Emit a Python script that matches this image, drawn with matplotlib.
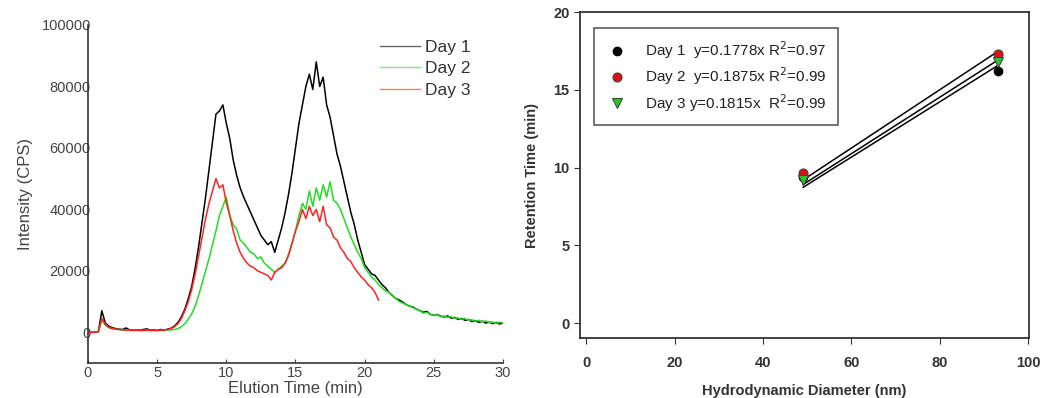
import numpy as np
import matplotlib
matplotlib.use("Agg")
import matplotlib.pyplot as plt

plt.rcParams['font.family'] = ['Liberation Sans', 'DejaVu Sans']

# ---------------- Left panel data: intensity (CPS) every 0.25 min, 0..30 min
day1_cps = [
    0, 0, 0, 200,
    7000, 3000, 2000, 1500,
    1200, 1000, 900, 1400,
    800, 700, 800, 700,
    900, 1100, 700, 800,
    600, 900, 700, 1000,
    1300, 2000, 3200, 5000,
    7500, 11000, 15000, 21000,
    28000, 36000, 44000, 53000,
    62000, 71000, 72000, 74000,
    68000, 63000, 56000, 51000,
    47000, 44000, 41500, 39000,
    36500, 34000, 31500, 30000,
    28500, 29500, 26000, 30000,
    34000, 39000, 45000, 52000,
    60000, 68000, 74000, 80000,
    84000, 79000, 88000, 80000,
    83000, 74000, 70000, 64000,
    58000, 54000, 49000, 44000,
    39000, 35000, 30000, 26000,
    22000, 20500, 19000, 18500,
    17000, 15500, 14500, 13000,
    12000, 11000, 10500, 9800,
    9000, 8500, 8200, 7500,
    7000, 6500, 6800, 5800,
    5500, 5800, 5200, 5000,
    5300, 4600, 4800, 4200,
    4500, 3900, 4100, 3500,
    3800, 3200, 3600, 3000,
    3300, 2800, 3200, 2700,
    3000,
]
day2_cps = [
    0, 0, 0, 200,
    4000, 2500, 1500, 1200,
    1000, 900, 800, 700,
    700, 600, 700, 600,
    600, 700, 600, 600,
    600, 600, 600, 700,
    800, 900, 1200, 1800,
    2800, 4200, 6000, 8500,
    12000, 16000, 20000, 24000,
    28500, 33000, 38000, 41000,
    44000, 38000, 35000, 33500,
    30000, 29000, 27500, 26000,
    25500, 24000, 24500, 22500,
    21500, 20500, 19500, 20500,
    21500, 22500, 25500, 29000,
    33000, 38000, 42000, 40000,
    46000, 41000, 47000, 43000,
    48000, 44000, 49000, 43000,
    42000, 40000, 37000, 34000,
    31000, 28500, 26000, 24000,
    21000, 19500, 18000, 17000,
    15500, 14500, 13500, 13000,
    12000, 11000, 10000, 9500,
    9000, 8500, 8000, 7500,
    7000, 6200, 6500, 5800,
    5500, 5700, 5000, 5300,
    4800, 5100, 4500, 4700,
    4200, 4500, 3900, 4100,
    3600, 3900, 3400, 3700,
    3100, 3400, 2900, 3300,
    3000,
]
day3_cps = [
    0, 0, 0, 200,
    4500, 2500, 1600, 1200,
    1000, 900, 800, 700,
    700, 600, 650, 600,
    600, 650, 600, 600,
    600, 650, 700, 900,
    1200, 1800, 2800, 4500,
    7000, 10000, 14000, 19000,
    25000, 31000, 37000, 42000,
    46000, 50000, 47000, 48000,
    42000, 38000, 33000, 29000,
    26000, 24000, 22500, 21500,
    21000, 20000, 19500, 19000,
    18500, 17000, 19500, 20500,
    21000, 22500, 25000, 29000,
    33000, 36000, 40000, 37000,
    41000, 38000, 40000, 36000,
    41000, 35000, 34000, 31000,
    30000, 27500, 26000, 24000,
    23000, 21000, 19500, 18000,
    17000, 15500, 14500, 13000,
    10500,
]
time_step_min = 0.25
day_labels = ['Day 1', 'Day 2', 'Day 3']
day_colors = ['black', '#22dd22', '#ff2222']

# ---------------- Right panel data
diam_nm = [49.1, 93.2]
rt_day1 = [9.4, 16.2]
rt_day2 = [9.65, 17.3]
rt_day3 = [9.2, 16.8]
slopes = [0.1778, 0.1875, 0.1815]
legend_right = ['Day 1  y=0.1778x R$^2$=0.97',
                'Day 2  y=0.1875x R$^2$=0.99',
                'Day 3 y=0.1815x  R$^2$=0.99']

fig = plt.figure(figsize=(10.49, 3.98), dpi=100)

# ---------------- Left panel
ax1 = fig.add_axes([88/1049, 1-363/398, (503-88)/1049, (363-25)/398])
for vals, lab, col in zip([day1_cps, day2_cps, day3_cps], day_labels, day_colors):
    t = np.arange(len(vals)) * time_step_min
    ax1.plot(t, vals, color=col, lw=1.1, label=lab)
ax1.set_xlim(0, 30)
ax1.set_ylim(-10000, 100000)
ax1.set_xticks([0, 5, 10, 15, 20, 25, 30])
ax1.set_yticks([0, 20000, 40000, 60000, 80000, 100000])
ax1.spines['top'].set_visible(False)
ax1.spines['right'].set_visible(False)
for s in ['left', 'bottom']:
    ax1.spines[s].set_color('#333333')
    ax1.spines[s].set_linewidth(1.2)
ax1.tick_params(axis='x', direction='in', length=3, pad=2, labelsize=10.5, colors='#444444')
ax1.tick_params(axis='y', length=0, pad=-2, labelsize=10.5, colors='#444444')
ax1.set_ylabel('Intensity (CPS)', fontsize=12, color='#444444', labelpad=6)
ax1.set_xlabel('Elution Time (min)', fontsize=12, color='#444444', labelpad=1)
leg1 = ax1.legend(loc='upper left', bbox_to_anchor=((380-88)/415, (363-40)/338), frameon=False,
                  fontsize=12.5, handlelength=2.3, handletextpad=0.3, labelspacing=0.35,
                  borderpad=0, borderaxespad=0, labelcolor='#333333')
for ln in leg1.get_lines():
    ln.set_linewidth(1.0)
    ln.set_alpha(0.6)

# ---------------- Right panel
ax2 = fig.add_axes([580/1049, 1-338/398, (1029-580)/1049, (338-12)/398])
xfit = np.array([diam_nm[0], diam_nm[1]])
for sl in slopes:
    ax2.plot(xfit, sl * xfit, color='black', lw=1.1, zorder=2)
ax2.plot(diam_nm, rt_day1, 'o', color='black', ms=6, mec='black', label=legend_right[0], zorder=3)
ax2.plot(diam_nm, rt_day2, 'o', color='#dd1111', ms=6.5, mec='#444444', mew=0.8, label=legend_right[1], zorder=4)
ax2.plot(diam_nm, rt_day3, 'v', color='#22cc22', ms=6.5, mec='#444444', mew=0.8, label=legend_right[2], zorder=5)
ax2.set_xlim(-1.4, 100.2)
ax2.set_ylim(-0.96, 20)
ax2.set_xticks([0, 20, 40, 60, 80, 100])
ax2.set_yticks([0, 5, 10, 15, 20])
for s in ax2.spines.values():
    s.set_color('#333333')
    s.set_linewidth(1.3)
ax2.tick_params(direction='out', length=4, labelsize=10.5, colors='#333333')
for lab in ax2.get_xticklabels() + ax2.get_yticklabels():
    lab.set_fontweight('bold')
ax2.tick_params(axis='x', pad=9)
ax2.set_xlabel('Hydrodynamic Diameter (nm)', fontsize=10.5, fontweight='bold', color='#333333', labelpad=10)
ax2.set_ylabel('Retention Time (min)', fontsize=10.5, fontweight='bold', color='#333333', labelpad=10)
leg2 = ax2.legend(loc='upper left', bbox_to_anchor=(14/449, 1-16/326), fancybox=False,
                  edgecolor='#333333', fontsize=11, handlelength=1.5, handletextpad=1.1,
                  labelspacing=0.3, borderpad=0.75, borderaxespad=0, labelcolor='#222222')
leg2.get_frame().set_linewidth(1.2)

fig.savefig('out.png', dpi=100)
